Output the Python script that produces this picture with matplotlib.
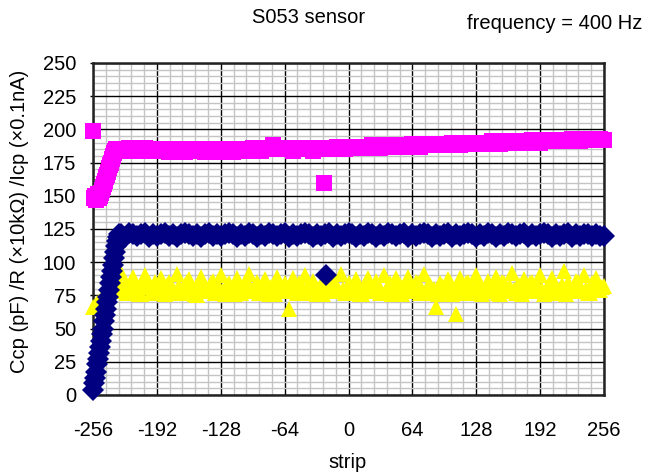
import numpy as np
import matplotlib
matplotlib.use("Agg")
import matplotlib.pyplot as plt
from matplotlib.ticker import MultipleLocator

plt.rcParams["font.family"] = ["Liberation Sans", "DejaVu Sans"]
plt.rcParams["axes.unicode_minus"] = False

W, H = 654, 475
FS = 14.5

# ---- data ----
# navy diamonds: Ccp (pF)
ccp_ramp_strip = np.arange(-256, -228)
ccp_ramp = [4, 9, 13, 17, 23, 27, 32, 36, 41, 46, 50, 56, 60, 65, 70, 74,
            79, 84, 89, 93, 98, 103, 108, 112, 116, 119, 121, 120]
flat_strip = np.arange(-228, 257, 4)
ccp_flat = [121, 119, 122, 121, 120, 121, 122, 119, 121, 120,
            121, 122, 120, 121, 119, 121, 122, 121, 120, 121,
            119, 121, 122, 120, 121, 120, 121, 122, 121, 119,
            121, 120, 122, 121, 119, 121, 120, 122, 121, 120,
            121, 122, 119, 121, 120, 121, 122, 121, 119, 121,
            120, 121, 122, 119, 121, 120, 121, 122, 121, 119,
            121, 120, 122, 121, 119, 121, 120, 122, 121, 120,
            121, 122, 119, 121, 120, 121, 122, 121, 119, 121,
            120, 121, 122, 119, 121, 120, 121, 122, 121, 119,
            121, 120, 122, 121, 119, 121, 120, 122, 121, 120,
            121, 122, 119, 121, 120, 121, 122, 121, 119, 121,
            120, 121, 122, 119, 121, 120, 121, 121, 120, 121,
            120, 120]
ccp_out_strip = [-23]
ccp_out = [90]

# magenta squares: R (x10kOhm)
r_ramp_strip = np.arange(-255, -231)
r_ramp = [148, 150, 147, 149, 151, 148, 150, 152, 154, 157, 159, 161,
          164, 166, 168, 171, 173, 175, 178, 180, 182, 184, 185, 185]
r_flat = [185, 184, 186, 185, 184, 185, 186, 184, 185, 184,
          185, 184, 183, 184, 185, 184, 183, 184, 185, 184,
          184, 183, 185, 184, 183, 184, 185, 184, 183, 184,
          185, 184, 185, 186, 185, 184, 186, 185, 188, 186,
          185, 186, 185, 184, 186, 185, 186, 185, 184, 186,
          185, 186, 185, 186, 187, 186, 185, 186, 187, 186,
          187, 186, 187, 188, 187, 186, 187, 188, 187, 188,
          188, 187, 188, 189, 188, 187, 188, 189, 188, 189,
          189, 188, 189, 190, 189, 188, 189, 190, 189, 190,
          190, 189, 190, 191, 190, 189, 190, 191, 190, 191,
          191, 190, 191, 192, 191, 190, 191, 192, 191, 192,
          192, 191, 192, 193, 192, 191, 192, 193, 192, 193,
          193, 192]
r_out_strip = [-256, -25]
r_out = [199, 160]

# yellow triangles: Icp (x0.1nA), strips -256..256 step 4
icp_strip_a = np.arange(-256, 257, 4)
icp_a = [66, 69, 72, 76, 80, 86, 79, 92, 83, 77,
         89, 81, 76, 90, 84, 78, 82, 88, 76, 85,
         80, 91, 77, 83, 87, 79, 75, 89, 82, 78,
         86, 80, 90, 76, 84, 79, 88, 77, 83, 91,
         78, 85, 80, 87, 76, 82, 89, 79, 84, 65,
         88, 77, 83, 90, 79, 86, 76, 81, 89, 78,
         85, 80, 91, 77, 84, 79, 87, 76, 82, 88,
         79, 86, 77, 90, 81, 76, 88, 83, 78, 89,
         80, 85, 77, 91, 82, 78, 66, 84, 79, 87,
         76, 61, 88, 80, 85, 77, 90, 82, 78, 86,
         79, 89, 76, 84, 80, 92, 77, 83, 87, 78,
         85, 79, 90, 76, 82, 88, 80, 77, 93, 84,
         78, 86, 81, 90, 77, 84, 88, 79, 82]
# in-between strips -254..254 step 4
icp_strip_b = np.arange(-254, 255, 4)
icp_b = [67, 70, 74, 78, 82, 78, 84, 80, 77, 83,
         79, 76, 84, 81, 77, 85, 79, 78, 83, 80,
         77, 82, 79, 85, 78, 76, 83, 80, 79, 84,
         77, 81, 78, 83, 80, 76, 82, 79, 85, 78,
         80, 77, 84, 79, 81, 76, 83, 78, 80, 82,
         79, 84, 77, 81, 78, 83, 80, 76, 82, 79,
         84, 78, 80, 77, 83, 79, 81, 76, 85, 78,
         80, 83, 77, 79, 84, 78, 81, 76, 82, 80,
         78, 84, 79, 77, 83, 80, 76, 82, 78, 85,
         79, 81, 77, 84, 78, 80, 83, 76, 79, 82,
         80, 77, 85, 78, 81, 79, 83, 76, 80, 84,
         78, 82, 79, 77, 84, 80, 78, 83, 76, 81,
         79, 85, 78, 80, 77, 83, 79, 81]

x_ticks = [-256, -192, -128, -64, 0, 64, 128, 192, 256]

fig = plt.figure(figsize=(W / 100, H / 100), dpi=100, facecolor="white")
ax = fig.add_axes([93 / W, 80 / H, 511 / W, 332 / H])

mk = dict(linestyle="none", clip_on=False, zorder=3, markeredgewidth=0)
ax.plot(np.concatenate([icp_strip_a, icp_strip_b]),
        np.concatenate([icp_a, icp_b]),
        marker="^", markersize=12, color="#FFFF00", **mk)
ax.plot(np.concatenate([ccp_ramp_strip, flat_strip, ccp_out_strip]),
        np.concatenate([ccp_ramp, ccp_flat, ccp_out]),
        marker="D", markersize=11, color="#000080", **mk)
ax.plot(np.concatenate([r_ramp_strip, flat_strip, r_out_strip]),
        np.concatenate([r_ramp, r_flat, r_out]),
        marker="s", markersize=12, color="#FF00FF", **mk)

ax.set_xlim(-256, 256)
ax.set_ylim(0, 250)
ax.set_xticks(x_ticks)
ax.xaxis.set_minor_locator(MultipleLocator(12.8))
ax.yaxis.set_major_locator(MultipleLocator(25))
ax.yaxis.set_minor_locator(MultipleLocator(5))
ax.grid(which="minor", color="#c4c4c4", linewidth=1.0, zorder=0)
ax.grid(which="major", color="#000000", linewidth=1.0, zorder=0.5)
ax.set_axisbelow(True)

for sp in ax.spines.values():
    sp.set_linewidth(1.8)
    sp.set_color("#222222")

ax.tick_params(axis="x", which="both", length=0, pad=19, labelsize=FS)
ax.tick_params(axis="y", which="major", length=2.5, width=1, direction="out",
               pad=9.5, labelsize=FS)
ax.tick_params(axis="y", which="minor", length=0)

fig.text(309 / W, 1 - 23.3 / H, "S053 sensor", fontsize=FS,
         ha="center", va="baseline")
fig.text(466.7 / W, 1 - 29.3 / H, "frequency = 400 Hz", fontsize=FS,
         ha="left", va="baseline")
fig.text(20 / W, 1 - 221 / H, "Ccp (pF) /R (×10kΩ) /Icp (×0.1nA)",
         fontsize=FS, rotation=90, ha="center", va="center")
fig.text(348 / W, 1 - 463 / H, "strip", fontsize=FS, ha="center", va="center")

fig.savefig("out.png", dpi=100, facecolor="white")
